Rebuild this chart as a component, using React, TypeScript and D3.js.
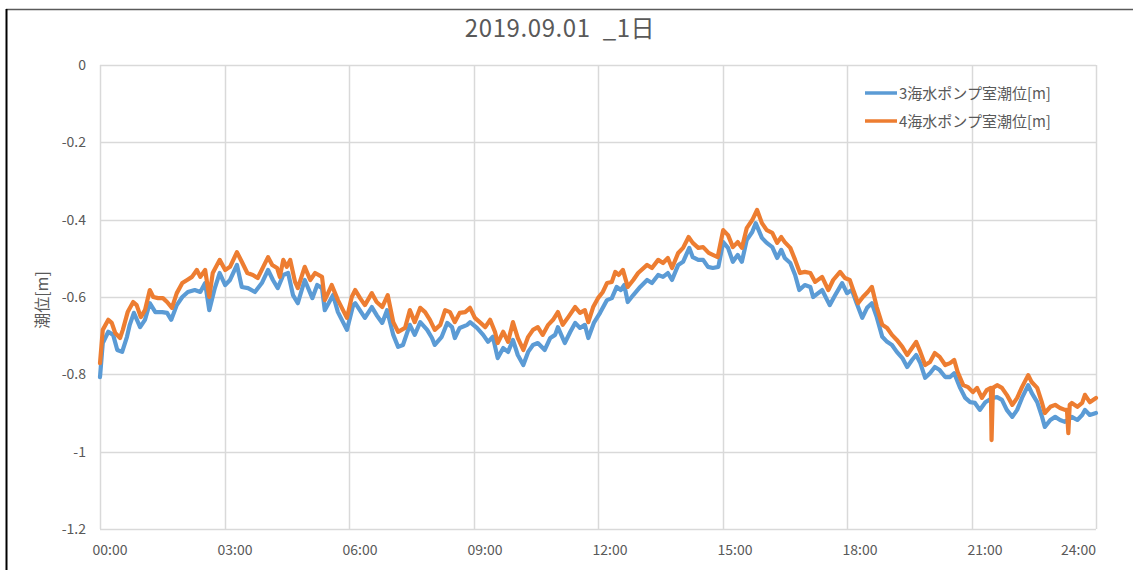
import React, { useEffect, useRef } from 'react';
import * as d3 from 'd3';

// [minutes since 00:00, tide level m]
const pump3Level: [number, number][] = [
  [0, -0.807], [4, -0.719], [12, -0.690], [19, -0.698], [25, -0.737], [32, -0.742], [39, -0.703], [43, -0.672],
  [49, -0.641], [58, -0.678], [65, -0.659], [72, -0.616], [80, -0.639], [90, -0.639], [97, -0.641], [103, -0.659],
  [111, -0.621], [119, -0.600], [127, -0.587], [137, -0.582], [145, -0.587], [152, -0.564], [158, -0.634], [166, -0.577],
  [173, -0.538], [181, -0.569], [188, -0.556], [198, -0.517], [205, -0.574], [214, -0.577], [224, -0.587], [234, -0.564],
  [243, -0.530], [250, -0.556], [257, -0.577], [265, -0.543], [272, -0.538], [279, -0.595], [286, -0.616], [296, -0.556],
  [307, -0.603], [314, -0.569], [321, -0.577], [325, -0.634], [337, -0.595], [344, -0.639], [357, -0.685], [366, -0.621],
  [369, -0.616], [383, -0.654], [393, -0.626], [400, -0.647], [408, -0.667], [415, -0.634], [424, -0.698], [431, -0.729],
  [438, -0.724], [448, -0.672], [455, -0.698], [463, -0.665], [473, -0.685], [480, -0.706], [484, -0.724], [494, -0.703],
  [502, -0.667], [509, -0.678], [513, -0.706], [520, -0.680], [531, -0.672], [535, -0.665], [545, -0.680], [554, -0.698],
  [561, -0.716], [568, -0.703], [575, -0.758], [583, -0.732], [590, -0.742], [597, -0.711], [604, -0.750], [612, -0.776],
  [619, -0.742], [626, -0.724], [633, -0.719], [643, -0.737], [651, -0.706], [658, -0.698], [662, -0.678], [672, -0.719],
  [680, -0.690], [687, -0.667], [694, -0.680], [701, -0.672], [706, -0.706], [714, -0.667], [723, -0.641], [733, -0.608],
  [740, -0.603], [747, -0.574], [753, -0.582], [758, -0.569], [763, -0.613], [771, -0.595], [781, -0.574], [791, -0.556],
  [798, -0.564], [807, -0.543], [814, -0.548], [821, -0.538], [827, -0.556], [836, -0.517], [843, -0.509], [852, -0.473],
  [857, -0.497], [865, -0.504], [872, -0.504], [879, -0.522], [886, -0.525], [894, -0.522], [901, -0.458], [908, -0.473],
  [915, -0.509], [922, -0.491], [928, -0.509], [935, -0.453], [943, -0.432], [948, -0.409], [957, -0.447], [964, -0.460],
  [972, -0.471], [979, -0.499], [985, -0.478], [990, -0.499], [998, -0.512], [1005, -0.543], [1011, -0.582], [1019, -0.569],
  [1027, -0.574], [1031, -0.600], [1044, -0.582], [1055, -0.621], [1063, -0.595], [1073, -0.564], [1080, -0.590], [1087, -0.582],
  [1094, -0.616], [1102, -0.654], [1109, -0.628], [1116, -0.616], [1123, -0.652], [1131, -0.703], [1138, -0.716], [1145, -0.724],
  [1152, -0.742], [1160, -0.758], [1167, -0.781], [1174, -0.763], [1180, -0.750], [1186, -0.771], [1193, -0.809], [1200, -0.797],
  [1207, -0.781], [1214, -0.789], [1222, -0.807], [1229, -0.807], [1235, -0.797], [1243, -0.833], [1251, -0.861], [1258, -0.872],
  [1265, -0.874], [1272, -0.892], [1280, -0.872], [1290, -0.861], [1297, -0.859], [1304, -0.866], [1311, -0.892], [1319, -0.910],
  [1326, -0.892], [1333, -0.861], [1342, -0.828], [1347, -0.848], [1355, -0.872], [1362, -0.910], [1366, -0.936], [1374, -0.918],
  [1381, -0.910], [1388, -0.918], [1395, -0.923], [1405, -0.910], [1413, -0.918], [1420, -0.905], [1424, -0.892], [1431, -0.905],
  [1440, -0.900],
];

const pump4Level: [number, number][] = [
  [0, -0.771], [4, -0.685], [12, -0.659], [17, -0.667], [22, -0.693], [29, -0.706], [33, -0.685], [40, -0.639],
  [48, -0.613], [53, -0.621], [59, -0.652], [65, -0.634], [72, -0.582], [77, -0.600], [84, -0.603], [91, -0.603],
  [97, -0.613], [104, -0.628], [111, -0.590], [119, -0.564], [126, -0.556], [133, -0.548], [140, -0.530], [145, -0.548],
  [152, -0.530], [158, -0.600], [163, -0.538], [173, -0.504], [181, -0.530], [188, -0.522], [198, -0.484], [205, -0.509],
  [213, -0.538], [221, -0.543], [228, -0.551], [236, -0.522], [243, -0.497], [249, -0.517], [256, -0.525], [260, -0.548],
  [265, -0.504], [270, -0.522], [275, -0.504], [282, -0.561], [286, -0.577], [296, -0.522], [304, -0.556], [311, -0.538],
  [321, -0.548], [325, -0.608], [335, -0.569], [344, -0.608], [357, -0.654], [364, -0.600], [369, -0.582], [376, -0.603],
  [383, -0.621], [393, -0.590], [400, -0.613], [408, -0.626], [416, -0.595], [424, -0.665], [431, -0.690], [441, -0.680],
  [448, -0.634], [455, -0.665], [463, -0.628], [470, -0.639], [477, -0.659], [484, -0.685], [492, -0.672], [499, -0.634],
  [506, -0.639], [513, -0.665], [520, -0.641], [528, -0.639], [535, -0.628], [542, -0.654], [549, -0.665], [557, -0.678],
  [564, -0.659], [571, -0.690], [575, -0.719], [583, -0.690], [590, -0.716], [597, -0.665], [604, -0.706], [612, -0.737],
  [619, -0.703], [626, -0.685], [633, -0.678], [640, -0.698], [648, -0.672], [655, -0.659], [662, -0.639], [669, -0.672],
  [677, -0.652], [687, -0.626], [694, -0.641], [701, -0.634], [706, -0.665], [713, -0.626], [720, -0.603], [727, -0.587],
  [733, -0.564], [740, -0.561], [745, -0.535], [750, -0.543], [756, -0.530], [763, -0.574], [771, -0.556], [778, -0.538],
  [791, -0.517], [798, -0.525], [807, -0.504], [814, -0.512], [821, -0.499], [827, -0.525], [836, -0.486], [843, -0.473],
  [851, -0.445], [857, -0.460], [865, -0.473], [872, -0.471], [880, -0.486], [886, -0.491], [893, -0.497], [901, -0.427],
  [908, -0.440], [915, -0.471], [922, -0.458], [928, -0.473], [935, -0.422], [943, -0.401], [950, -0.375], [957, -0.409],
  [964, -0.427], [972, -0.434], [979, -0.460], [985, -0.445], [990, -0.458], [998, -0.473], [1005, -0.504], [1012, -0.538],
  [1019, -0.535], [1027, -0.538], [1034, -0.561], [1044, -0.548], [1053, -0.582], [1060, -0.556], [1070, -0.535], [1077, -0.551],
  [1084, -0.556], [1089, -0.582], [1096, -0.616], [1103, -0.600], [1110, -0.587], [1116, -0.574], [1123, -0.626], [1131, -0.672],
  [1138, -0.680], [1145, -0.698], [1152, -0.711], [1160, -0.729], [1167, -0.750], [1174, -0.732], [1180, -0.716], [1186, -0.742],
  [1193, -0.776], [1200, -0.768], [1207, -0.745], [1214, -0.755], [1222, -0.776], [1229, -0.771], [1235, -0.763], [1240, -0.794],
  [1248, -0.828], [1255, -0.833], [1262, -0.846], [1268, -0.835], [1275, -0.861], [1282, -0.841], [1288, -0.835], [1289, -0.970],
  [1291, -0.835], [1297, -0.828], [1304, -0.835], [1311, -0.853], [1319, -0.879], [1326, -0.861], [1333, -0.833], [1342, -0.802],
  [1347, -0.820], [1355, -0.835], [1362, -0.874], [1366, -0.900], [1374, -0.884], [1381, -0.879], [1388, -0.887], [1395, -0.892],
  [1398, -0.892], [1400, -0.952], [1402, -0.879], [1405, -0.874], [1413, -0.884], [1420, -0.874], [1424, -0.853], [1431, -0.872],
  [1440, -0.861],
];

const seriesNames = ['3海水ポンプ室潮位[m]', '4海水ポンプ室潮位[m]'];
const seriesColors = ['#5B9BD5', '#ED7D31'];
const yTicks = [0, -0.2, -0.4, -0.6, -0.8, -1, -1.2];
const xTickHours = [0, 3, 6, 9, 12, 15, 18, 21, 24];
const chartTitle = '2019.09.01  _1日';
const yAxisTitle = '潮位[m]';

const W = 1133;
const H = 570;
const FONT = '"Noto Sans CJK JP", "Noto Sans", sans-serif';

export default function App() {
  const ref = useRef<SVGSVGElement>(null);

  useEffect(() => {
    if (!ref.current) return;
    const svg = d3.select(ref.current);
    svg.selectAll('*').remove();

    const plot = { left: 100, right: 1096, top: 65, bottom: 529 };

    const x = d3.scaleLinear().domain([0, 1440]).range([plot.left, plot.right]);
    const y = d3.scaleLinear().domain([-1.2, 0]).range([plot.bottom, plot.top]);

    // chart frame (only top / left edges visible in the shot)
    svg.append('rect').attr('width', W).attr('height', H).attr('fill', '#fff');
    svg.append('line').attr('x1', 6).attr('x2', W).attr('y1', 9.5).attr('y2', 9.5)
      .attr('stroke', '#5a5a5a').attr('stroke-width', 1.5);
    svg.append('line').attr('x1', 6.5).attr('x2', 6.5).attr('y1', 9).attr('y2', H)
      .attr('stroke', '#000').attr('stroke-width', 2);

    // gridlines
    svg.append('g').selectAll('line').data(yTicks).enter().append('line')
      .attr('x1', plot.left).attr('x2', plot.right)
      .attr('y1', d => Math.round(y(d)) + 0.5).attr('y2', d => Math.round(y(d)) + 0.5)
      .attr('stroke', '#d9d9d9').attr('stroke-width', 1.5);
    svg.append('g').selectAll('line').data(xTickHours).enter().append('line')
      .attr('x1', d => Math.round(x(d * 60)) + 0.5).attr('x2', d => Math.round(x(d * 60)) + 0.5)
      .attr('y1', plot.top).attr('y2', plot.bottom)
      .attr('stroke', '#d9d9d9').attr('stroke-width', 1.5);

    // y tick labels (plain hyphen minus like Excel)
    svg.append('g').selectAll('text').data(yTicks).enter().append('text')
      .attr('x', 86).attr('y', d => y(d) + 5)
      .attr('text-anchor', 'end')
      .style('font-family', FONT).style('font-size', '14px').attr('fill', '#595959')
      .text(d => String(d));

    // x tick labels (Excel places them on its own spacing, last one pulled inside)
    const labelX = d3.scaleLinear().domain([0, 24]).range([110, 110 + 8 * 125]);
    svg.append('g').selectAll('text').data(xTickHours).enter().append('text')
      .attr('x', d => (labelX(d) + 19 > plot.right ? plot.right : labelX(d)))
      .attr('y', 555)
      .attr('text-anchor', d => (labelX(d) + 19 > plot.right ? 'end' : 'middle'))
      .style('font-family', FONT).style('font-size', '14px').attr('fill', '#595959')
      .text(d => `${String(d).padStart(2, '0')}:00`);

    // lines
    const line = d3.line<[number, number]>()
      .x(d => x(d[0]))
      .y(d => y(d[1]));

    [pump3Level, pump4Level].forEach((s, i) => {
      svg.append('path').datum(s)
        .attr('d', line)
        .attr('fill', 'none')
        .attr('stroke', seriesColors[i])
        .attr('stroke-width', 4.2)
        .attr('stroke-linejoin', 'round')
        .attr('stroke-linecap', 'round');
    });

    // title
    svg.append('text')
      .attr('x', 560).attr('y', 37)
      .attr('text-anchor', 'middle')
      .style('font-family', FONT).style('font-size', '24px').style('white-space', 'pre')
      .style('letter-spacing', '0.6px')
      .attr('fill', '#595959')
      .text(chartTitle);

    // y axis title
    svg.append('text')
      .attr('transform', 'translate(48,300) rotate(-90)')
      .attr('text-anchor', 'middle')
      .style('font-family', FONT).style('font-size', '16px')
      .attr('fill', '#595959')
      .text(yAxisTitle);

    // legend
    const legend = svg.append('g').selectAll('g').data(seriesNames).enter().append('g')
      .attr('transform', (d, i) => `translate(865,${93 + i * 28})`);
    legend.append('line')
      .attr('x1', 0).attr('x2', 32).attr('y1', 0).attr('y2', 0)
      .attr('stroke', (d, i) => seriesColors[i]).attr('stroke-width', 3.5);
    legend.append('text')
      .attr('x', 34).attr('y', 5.5)
      .style('font-family', FONT).style('font-size', '15px')
      .attr('fill', '#595959')
      .text(d => d);
  }, []);

  return (
    <svg
      ref={ref}
      width={W}
      height={H}
      style={{ position: 'absolute', left: 0, top: 0, display: 'block' }}
    />
  );
}
